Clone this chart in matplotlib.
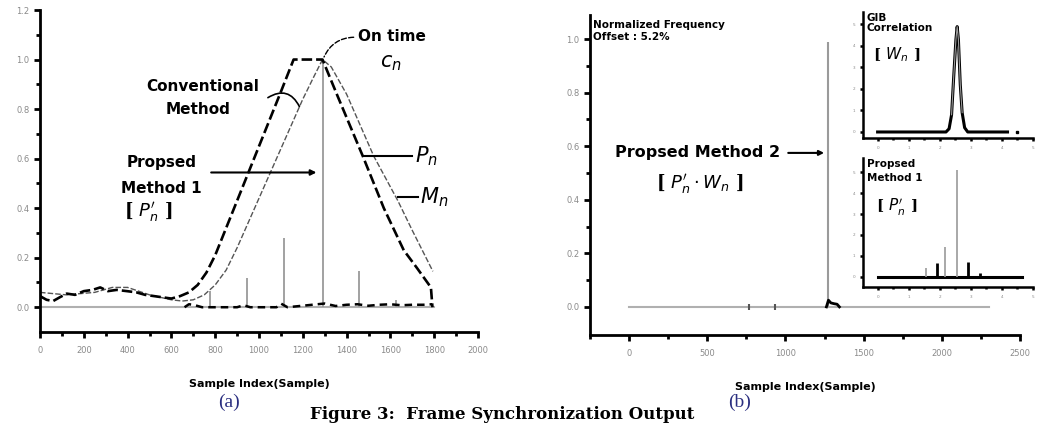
import matplotlib
matplotlib.use("Agg")
import matplotlib.pyplot as plt

# ---------------- data: panel (a) ----------------
m_x = [0, 30, 60, 90, 122, 160, 200, 240, 275, 310, 350, 397, 440, 480, 520, 560, 600, 640,
       680, 720, 760, 800, 850, 900, 950, 1000, 1050, 1100, 1158, 1290,
       1360, 1474, 1570, 1661, 1720, 1785, 1792]
m_y = [0.045, 0.03, 0.025, 0.04, 0.055, 0.05, 0.065, 0.07, 0.08, 0.065, 0.07, 0.065, 0.06, 0.05,
       0.045, 0.04, 0.035, 0.045,
       0.06, 0.09, 0.14, 0.21, 0.32, 0.43, 0.54, 0.65, 0.76, 0.87, 1.0, 1.0,
       0.85, 0.61, 0.40, 0.23, 0.16, 0.08, 0.0]

p_x = [0, 120, 250, 330, 400, 500, 600, 650, 700, 750, 800, 850, 900, 950, 1000, 1050, 1100,
       1150, 1200, 1250, 1290, 1330, 1400, 1524, 1634, 1700, 1794]
p_y = [0.06, 0.05, 0.06, 0.08, 0.08, 0.05, 0.03, 0.025, 0.03, 0.05, 0.09, 0.15, 0.24, 0.34,
       0.44, 0.54, 0.64, 0.74, 0.84, 0.93, 1.0, 0.97, 0.86, 0.61, 0.43, 0.31, 0.145]

spike_x = [778, 947, 1112, 1290, 1455, 1625]
spike_h = [0.065, 0.12, 0.28, 1.0, 0.145, 0.03]

floor_x = [660, 680, 700, 720, 740, 900, 930, 960, 1080, 1100, 1130, 1300, 1350, 1400, 1450,
           1500, 1550, 1600, 1650, 1700, 1750, 1790]
floor_y = [0.0, 0.012, 0.01, 0.005, 0.0, 0.0, 0.008, 0.0, 0.0, 0.015, 0.0, 0.015, 0.005, 0.01,
           0.012, 0.006, 0.01, 0.012, 0.008, 0.01, 0.01, 0.012]

base_a = [0, 1800]

a_xticks = [0, 200, 400, 600, 800, 1000, 1200, 1400, 1600, 1800, 2000]
a_yticks = [0.0, 0.2, 0.4, 0.6, 0.8, 1.0, 1.2]

# ---------------- data: panel (b) ----------------
b_base = [0, 2300]
b_spike_x = 1275
b_spike_h = 0.99
b_marks_x = [770, 935]
b_blob_x = [1262, 1275, 1290, 1310, 1330, 1345]
b_blob_y = [0.0, 0.025, 0.015, 0.012, 0.01, 0.0]
b_xticks = [0, 500, 1000, 1500, 2000, 2500]
b_yticks = [0.0, 0.2, 0.4, 0.6, 0.8, 1.0]

# inset 1: GIB correlation
g_x = [0, 2.2, 2.3, 2.38, 2.45, 2.52, 2.56, 2.6, 2.66, 2.72, 2.8, 2.9, 4.18]
g_y = [0, 0, 0.15, 0.8, 2.6, 4.3, 4.9, 4.3, 2.2, 0.9, 0.2, 0, 0]
g_dot_x = [4.5]

# inset 2: proposed method 1
q_base = [0, 4.65]
q_x_gray = [1.55, 2.18, 2.56]
q_h_gray = [0.43, 1.43, 5.1]
q_x_black = [1.9, 2.91, 3.29]
q_h_black = [0.67, 0.71, 0.19]
inset_xticks = [0, 1, 2, 3, 4, 5]
inset_yticks = [0, 1, 2, 3, 4, 5]

# ---------------- figure ----------------
W, H = 1037, 423
fig = plt.figure(figsize=(W / 100, H / 100), dpi=100)
BOLD = dict(fontweight="bold", family="DejaVu Sans")


def box(l, t, r, b):
    return [l / W, 1 - b / H, (r - l) / W, (b - t) / H]


def style(ax, lw=2.0, lab=6, col="#8a8a8a"):
    for s in ("top", "right"):
        ax.spines[s].set_visible(False)
    for s in ("left", "bottom"):
        ax.spines[s].set_linewidth(lw)
    ax.tick_params(which="major", direction="out", length=4, width=lw, labelsize=lab,
                   labelcolor=col)
    ax.tick_params(which="minor", direction="out", length=3, width=lw)


# ---- panel (a)
ax = fig.add_axes(box(40, 10, 478, 332))
style(ax)
ax.tick_params(axis="x", which="major", pad=6)
ax.set_xlim(0, 2000)
ax.set_ylim(-0.1, 1.2)
ax.set_xticks(a_xticks)
ax.set_xticks([v + 100 for v in a_xticks[:-1]], minor=True)
ax.set_yticks(a_yticks)
ax.set_yticks([v + 0.1 for v in a_yticks[:-1]], minor=True)
ax.set_yticklabels([f"{v:.1f}" for v in a_yticks])
ax.plot(base_a, [0, 0], color="#b0b0b0", lw=1.5)
ax.vlines(spike_x, 0, spike_h, color="#9a9a9a", lw=1.3)
ax.plot(floor_x, floor_y, color="black", lw=1.8, dashes=(3, 2))
ax.plot(p_x, p_y, color="#555555", lw=1.0, dashes=(4, 1.5))
ax.plot(m_x, m_y, color="black", lw=1.9, dashes=(4, 1.5))
ax.set_xlabel("Sample Index(Sample)", fontsize=8, labelpad=17, **BOLD)

ax.text(741, 0.892, "Conventional", ha="center", va="center", fontsize=11, **BOLD)
ax.text(722, 0.80, "Method", ha="center", va="center", fontsize=11, **BOLD)
ax.annotate("", xy=(1190, 0.80), xytext=(1030, 0.84),
            arrowprops=dict(arrowstyle="-", lw=1.2, connectionstyle="arc3,rad=-0.6"))
ax.text(1451, 1.092, "On time", ha="left", va="center", fontsize=11, **BOLD)
ax.text(1602, 0.985, r"$c_n$", ha="center", va="center", fontsize=15, family="serif")
ax.annotate("", xy=(1292, 1.0), xytext=(1445, 1.09),
            arrowprops=dict(arrowstyle="-", lw=1.0, ls="--",
                            connectionstyle="arc3,rad=0.35"))
ax.text(555, 0.584, "Propsed", ha="center", va="center", fontsize=11, **BOLD)
ax.text(555, 0.48, "Method 1", ha="center", va="center", fontsize=11, **BOLD)
ax.text(494, 0.384, r"[ $P_n^{\prime}$ ]", ha="center", va="center", fontsize=13,
        fontweight="bold", family="serif")
ax.annotate("", xy=(1275, 0.544), xytext=(769, 0.544),
            arrowprops=dict(arrowstyle="-|>", lw=1.5, color="black", mutation_scale=8))
ax.plot([1478, 1700], [0.61, 0.61], color="black", lw=1.5)
ax.text(1712, 0.61, r"$P_n$", ha="left", va="center", fontsize=15, family="serif")
ax.plot([1634, 1725], [0.444, 0.444], color="black", lw=1.5)
ax.text(1737, 0.444, r"$M_n$", ha="left", va="center", fontsize=15, family="serif")

# ---- panel (b)
bx = fig.add_axes(box(590, 15, 1020, 335))
style(bx)
bx.tick_params(axis="x", which="major", pad=6)
bx.set_xlim(-250, 2500)
bx.set_ylim(-0.105, 1.09)
bx.set_xticks(b_xticks)
bx.set_xticks([v + 250 for v in b_xticks[:-1]] + [-250], minor=True)
bx.set_yticks(b_yticks)
bx.set_yticks([v + 0.1 for v in b_yticks[:-1]], minor=True)
bx.set_yticklabels([f"{v:.1f}" for v in b_yticks])
bx.plot(b_base, [0, 0], color="#b0b0b0", lw=1.5)
bx.plot(b_marks_x, [0, 0], ls="none", marker="|", ms=4, mew=1.5, color="#555555")
bx.vlines([b_spike_x], 0, [b_spike_h], color="#9a9a9a", lw=1.5)
bx.plot(b_blob_x, b_blob_y, color="black", lw=2.0)
bx.set_xlabel("Sample Index(Sample)", fontsize=8, labelpad=17, **BOLD)
bx.text(-230, 1.03, "Normalized Frequency\nOffset : 5.2%", ha="left", va="center",
        fontsize=7.5, linespacing=1.3, **BOLD)
bx.text(436, 0.575, "Propsed Method 2", ha="center", va="center", fontsize=11.5, **BOLD)
bx.annotate("", xy=(1265, 0.575), xytext=(1000, 0.575),
            arrowprops=dict(arrowstyle="-|>", lw=1.5, color="black", mutation_scale=7))
bx.text(455, 0.46, r"[ $P_n^{\prime}\cdot W_n$ ]", ha="center", va="center",
        fontsize=13, fontweight="bold", family="serif")

# ---- inset 1
i1 = fig.add_axes(box(863, 12, 1033, 138))
style(i1, lw=1.8, lab=3)
i1.set_xlim(-0.47, 4.9)
i1.set_ylim(-0.28, 5.58)
i1.set_xticks(inset_xticks)
i1.set_xticks([v + 0.5 for v in inset_xticks[:-1]], minor=True)
i1.set_yticks(inset_yticks)
i1.tick_params(which="major", length=2)
i1.tick_params(which="minor", length=1.5)
i1.plot(g_x, g_y, color="black", lw=2.2)
i1.plot(g_x[3:10], g_y[3:10], color="#9a9a9a", lw=0.8)
i1.plot(g_dot_x, [0], ls="none", marker="s", ms=2, color="black")
i1.text(-0.35, 5.55, "GIB\nCorrelation", ha="left", va="top", fontsize=7.5,
        linespacing=1.1, **BOLD)
i1.text(0.6, 3.6, r"[ $W_n$ ]", ha="center", va="center", fontsize=11,
        fontweight="bold", family="serif")

# ---- inset 2
i2 = fig.add_axes(box(863, 158, 1033, 287))
style(i2, lw=1.8, lab=3)
i2.set_xlim(-0.47, 4.9)
i2.set_ylim(-0.48, 5.67)
i2.set_xticks(inset_xticks)
i2.set_xticks([v + 0.5 for v in inset_xticks[:-1]], minor=True)
i2.set_yticks(inset_yticks)
i2.tick_params(which="major", length=2)
i2.tick_params(which="minor", length=1.5)
i2.plot(q_base, [0, 0], color="black", lw=2.2)
i2.vlines(q_x_gray, 0, q_h_gray, color="#9a9a9a", lw=1.2)
i2.vlines(q_x_black, 0, q_h_black, color="black", lw=2.0)
i2.text(-0.35, 5.6, "Propsed\nMethod 1", ha="left", va="top", fontsize=7.5,
        linespacing=1.4, **BOLD)
i2.text(0.6, 3.3, r"[ $P_n^{\prime}$ ]", ha="center", va="center", fontsize=11,
        fontweight="bold", family="serif")

# ---- sub-captions and figure caption
fig.text(229 / W, 1 - 402 / H, "(a)", ha="center", va="center", fontsize=14,
         family="Liberation Serif", color="#2b2f80")
fig.text(740 / W, 1 - 402 / H, "(b)", ha="center", va="center", fontsize=14,
         family="Liberation Serif", color="#2b2f80")
fig.text(502 / W, 4 / H, "Figure 3:  Frame Synchronization Output", ha="center",
         va="baseline", fontsize=12, fontweight="bold", family="DejaVu Serif")

fig.savefig("out.png", dpi=100)
